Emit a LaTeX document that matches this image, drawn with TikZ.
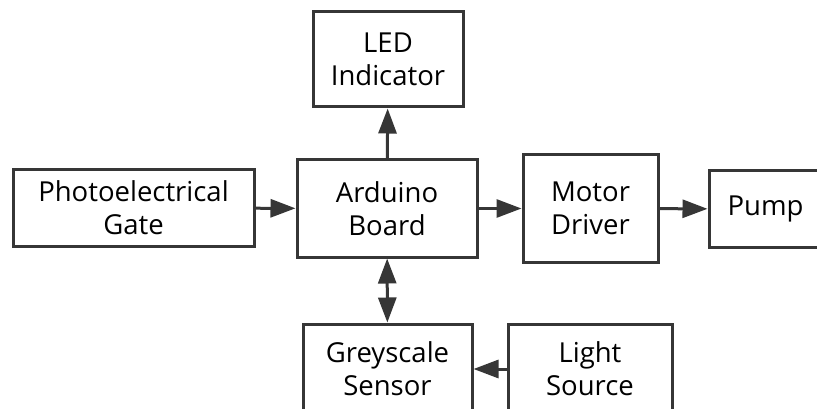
\documentclass[tikz,border=0pt]{standalone}
\usepackage{fontspec}
\setmainfont{Open Sans}
\usepackage{xcolor}
\definecolor{LineGray}{HTML}{363636}
\usetikzlibrary{arrows.meta,positioning}

\begin{document}
\begin{tikzpicture}[
        x=1pt, y=-1pt,
        block/.style={draw=LineGray, line width=3pt, fill=white, align=center,
            inner sep=0pt, font=\fontsize{27.5}{33}\selectfont, text=black},
        link/.style={draw=LineGray, line width=3pt, -{Triangle[length=25pt, width=18pt]}},
        duplex/.style={link, {Triangle[length=25pt, width=18pt]}-{Triangle[length=25pt, width=18pt]}}
    ]
        % Frame of the page, the pump and the lower row run past it
        \clip (0,0) rectangle (817,409);

        % Blocks
        \node[block, minimum width=241pt, minimum height=76pt] (photo) at (133.5,208) {Photoelectrical\\Gate};
        \node[block, minimum width=180pt, minimum height=97pt] (arduino) at (387,208.5) {Arduino\\Board};
        \node[block, minimum width=150pt, minimum height=95pt] (led) at (388,59.5) {LED\\Indicator};
        \node[block, minimum width=135pt, minimum height=107pt] (motor) at (590.5,208.5) {Motor\\Driver};
        \node[block, minimum width=113pt, minimum height=76pt] (pump) at (765.5,209) {Pump};
        \node[block, minimum width=169pt, minimum height=90pt] (grey) at (387.5,369) {Greyscale\\Sensor};
        \node[block, minimum width=164pt, minimum height=90pt] (light) at (590,369) {Light\\Source};

        % Signal flow
        \draw[link] (photo) -- (arduino);
        \draw[link] (arduino) -- (motor);
        \draw[link] (motor) -- (pump);
        \draw[link] (arduino) -- (led);
        \draw[duplex] (arduino) -- (grey);
        \draw[link] (light) -- (grey);
    \end{tikzpicture}
\end{document}
